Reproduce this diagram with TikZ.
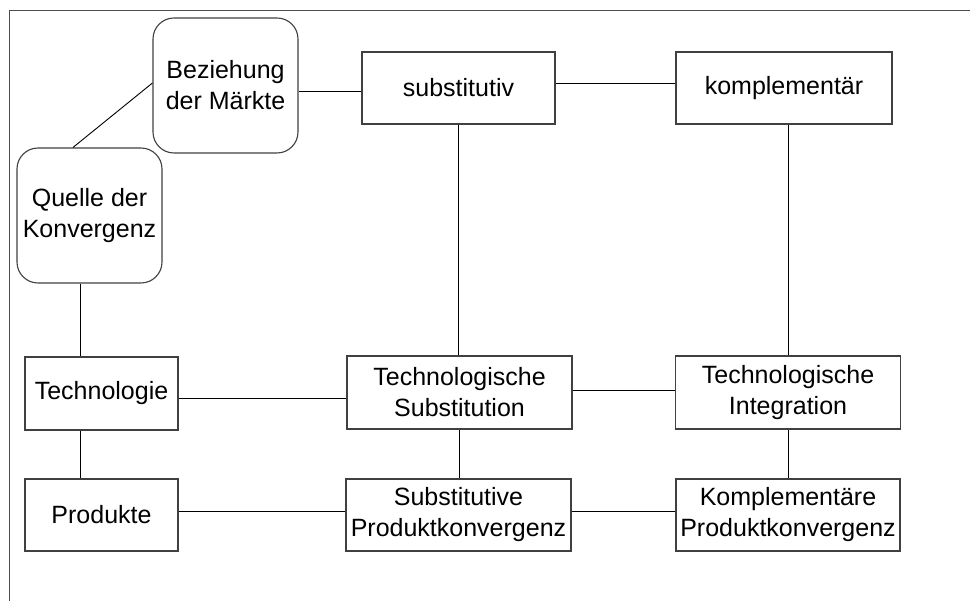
\documentclass[tikz,border=0pt]{standalone}
\usepackage{fontspec}
\setmainfont{Liberation Sans}
\usetikzlibrary{calc}
\begin{document}
\begin{tikzpicture}[x=1pt,y=-1pt,
  font=\fontsize{25}{31}\selectfont,
  box/.style={draw=black!75, line width=1.1pt, fill=white, align=center,
    inner sep=0pt, minimum width=#1, minimum height=72pt},
  rbox/.style={box=145pt, minimum height=135pt, rounded corners=21pt},
  link/.style={draw=black, line width=0.9pt}]
\useasboundingbox (0,0) rectangle (970,601);
% open frame around the diagram
\draw[black!70, line width=1.5pt] (9.5,601) -- (9.5,10.5) -- (970,10.5);

% upper level: source and market relation
\node[rbox] (bez) at (225.5,85.5) {Beziehung\\der Märkte};
\node[rbox] (quelle) at (89.5,215.5) {Quelle der\\Konvergenz};
\node[box=193pt] (subst) at (458.5,88) {substitutiv};
\node[box=216pt] (kompl) at (784,88) {komplementär};

% technology row
\node[box=153pt, minimum height=73pt] (tech) at (101.5,393.5) {Technologie};
\node[box=225pt, minimum height=73pt] (ts) at (459.5,392.5) {Technologische\\Substitution};
\node[box=225pt, minimum height=73pt] (ti) at (788,392.5) {Technologische\\Integration};

% product row
\node[box=153pt] (prod) at (101.5,515) {Produkte};
\node[box=225pt] (sp) at (458.5,515) {Substitutive\\Produktkonvergenz};
\node[box=224pt] (kp) at (788,515) {Komplementäre\\Produktkonvergenz};

% connectors
\draw[link] ([yshift=2.5pt]bez.west) -- ([xshift=-16.5pt]quelle.north);
\draw[link] ([yshift=-3pt]subst.west) -- ([yshift=-3pt]subst.west -| bez.east);
\draw[link] ([yshift=5pt]subst.east) -- ([yshift=5pt]subst.east -| kompl.west);
\draw[link] (subst.south) -- (subst.south |- ts.north);
\draw[link] (ti.north) -- (ti.north |- kompl.south);
\draw[link] ([xshift=-9pt]quelle.south) -- ([xshift=-9pt]quelle.south |- tech.north);
\draw[link] ([xshift=-21pt]tech.south) -- ([xshift=-21pt]prod.north);
\draw[link] ([yshift=-4.5pt]tech.east) -- ([yshift=-4.5pt]tech.east -| ts.west);
\draw[link] ([yshift=2.5pt]ts.east) -- ([yshift=2.5pt]ts.east -| ti.west);
\draw[link] (ts.south) -- (ts.south |- sp.north);
\draw[link] (ti.south) -- (ti.south |- kp.north);
\draw[link] ([yshift=4pt]prod.east) -- ([yshift=4pt]prod.east -| sp.west);
\draw[link] ([yshift=4pt]sp.east) -- ([yshift=4pt]sp.east -| kp.west);
\end{tikzpicture}
\end{document}
